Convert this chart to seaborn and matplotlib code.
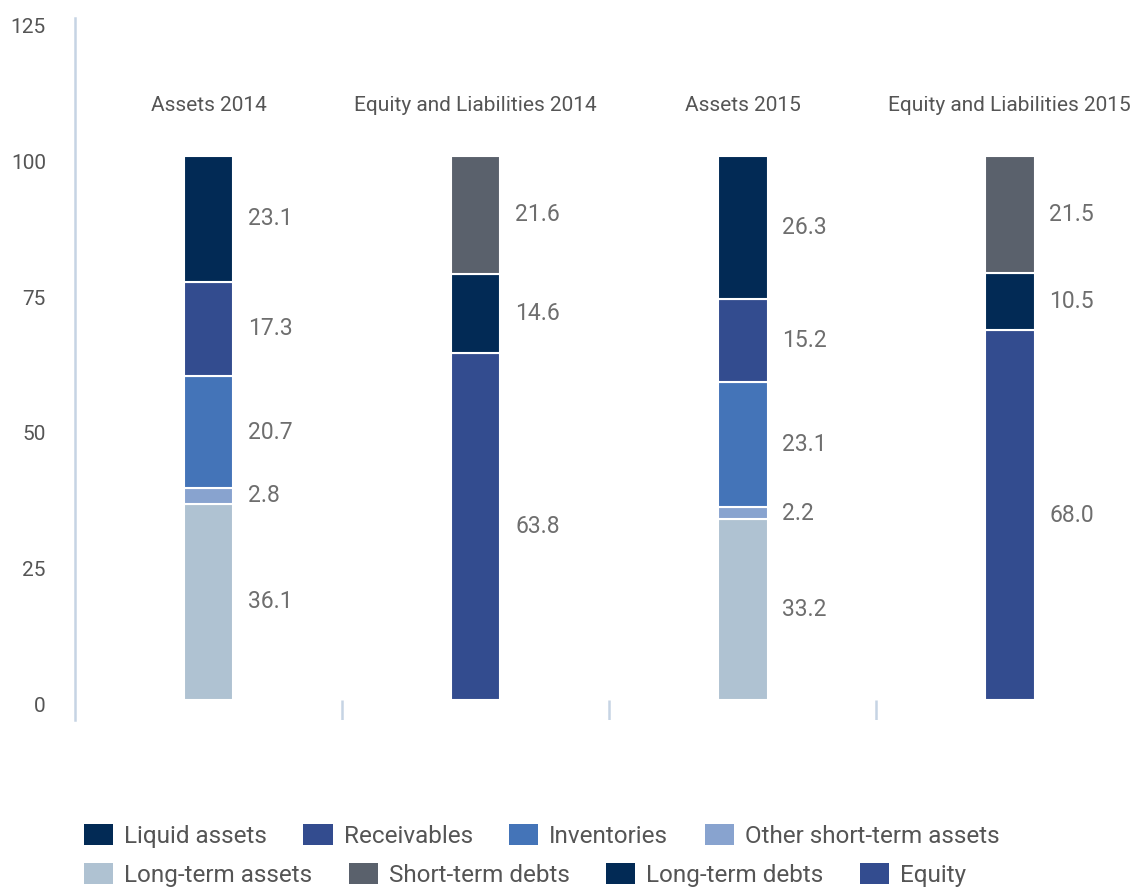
import matplotlib
matplotlib.use("Agg")
import matplotlib.pyplot as plt
from matplotlib.patches import Patch
from matplotlib.transforms import ScaledTranslation
import seaborn as sns
import pandas as pd

# ---- data ----
categories = ["Assets 2014", "Equity and Liabilities 2014", "Assets 2015", "Equity and Liabilities 2015"]
# stacking order bottom -> top
asset_components = ["Long-term assets", "Other short-term assets", "Inventories", "Receivables", "Liquid assets"]
liab_components = ["Equity", "Long-term debts", "Short-term debts"]
assets_2014 = [36.1, 2.8, 20.7, 17.3, 23.1]
liab_2014 = [63.8, 14.6, 21.6]
assets_2015 = [33.2, 2.2, 23.1, 15.2, 26.3]
liab_2015 = [68.0, 10.5, 21.5]
y_ticks = [0, 25, 50, 75, 100, 125]
legend_row1 = ["Liquid assets", "Receivables", "Inventories", "Other short-term assets"]
legend_row2 = ["Long-term assets", "Short-term debts", "Long-term debts", "Equity"]

colors = {
    "Liquid assets": "#022a55",
    "Receivables": "#334c8f",
    "Inventories": "#4474b8",
    "Other short-term assets": "#88a3cf",
    "Long-term assets": "#afc2d2",
    "Short-term debts": "#5a616c",
    "Long-term debts": "#022a55",
    "Equity": "#334c8f",
}

rows = []
for cat, comps, vals in [
    (categories[0], asset_components, assets_2014),
    (categories[1], liab_components, liab_2014),
    (categories[2], asset_components, assets_2015),
    (categories[3], liab_components, liab_2015),
]:
    bottom = 0.0
    for c, v in zip(comps, vals):
        rows.append({"category": cat, "component": c, "value": v, "bottom": bottom})
        bottom += v
df = pd.DataFrame(rows)

sns.set_theme(style="white")
plt.rcParams["font.family"] = ["Roboto", "DejaVu Sans"]

fig = plt.figure(figsize=(11.38, 8.89), dpi=100)
ax = fig.add_axes([75 / 1138, 169 / 889, (1138 - 75) / 1138, 702 / 889])

for comp in asset_components + liab_components:
    sub = df[df["component"] == comp]
    sns.barplot(data=sub, x="category", y="value", order=categories, bottom=sub["bottom"].values,
                color=colors[comp], width=0.186, errorbar=None, saturation=1,
                edgecolor="white", linewidth=1.5, ax=ax)

half = 0.09
for _, r in df.iterrows():
    xi = categories.index(r["category"])
    ax.text(xi + half + 0.058, r["bottom"] + r["value"] / 2, f"{r['value']:.1f}",
            ha="left", va="center", fontsize=16.5, color="#6e6e6e")

for i, cat in enumerate(categories):
    ax.text(i, 109.3, cat, ha="center", va="center", fontsize=15, color="#555555")

ax.set_xlim(-0.5, 3.48)
ax.set_ylim(-3.7, 125.4)
ax.set_xlabel("")
ax.set_ylabel("")
ax.set_xticks([])
ax.set_yticks(y_ticks)
ax.set_yticklabels([str(t) for t in y_ticks])
ax.tick_params(axis="y", length=0, pad=21, labelsize=15, labelcolor="#555555")
for lab in ax.get_yticklabels():
    lab.set_transform(lab.get_transform() + ScaledTranslation(0, -5 / 100, fig.dpi_scale_trans))

for s in ["top", "right", "bottom"]:
    ax.spines[s].set_visible(False)
ax.spines["left"].set_color("#c6d4e4")
ax.spines["left"].set_linewidth(1.8)
ax.vlines([0.5, 1.5, 2.5], -3.7, 0, color="#c6d4e4", linewidth=1.8)

for row, ypix in [(legend_row1, 836), (legend_row2, 875)]:
    handles = [Patch(facecolor=colors[n], edgecolor="none") for n in row]
    leg = fig.legend(handles, row, loc="center left", bbox_to_anchor=(84 / 1138, 1 - ypix / 889),
                     ncol=4, frameon=False, fontsize=17.5, handlelength=1.2, handleheight=0.95,
                     handletextpad=0.45, columnspacing=1.5, borderpad=0, borderaxespad=0)
    for t in leg.get_texts():
        t.set_color("#555555")

fig.savefig("out.png", dpi=100)
